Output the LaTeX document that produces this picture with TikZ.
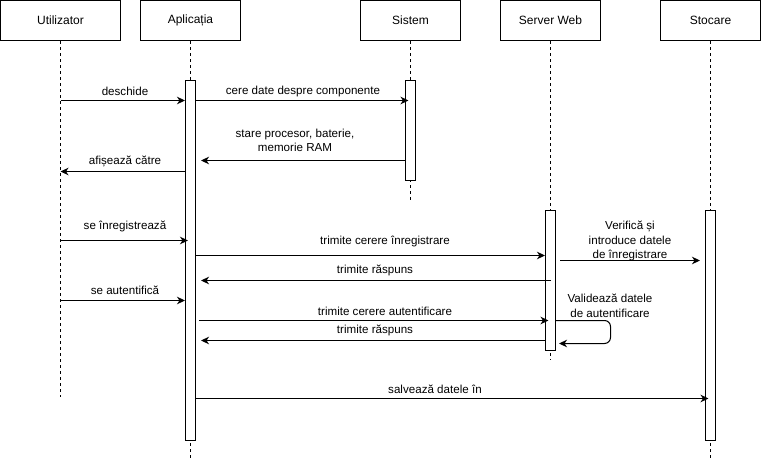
\documentclass[tikz,border=0pt]{standalone}
\usepackage{fontspec}
\setmainfont{Liberation Sans}
\usetikzlibrary{arrows.meta}
\begin{document}
\begin{tikzpicture}[x=1pt,y=-1pt,
  head/.style={draw,line width=1pt,minimum height=40pt,inner sep=0pt,font=\fontsize{12}{14}\selectfont},
  act/.style={draw,fill=white,line width=1pt,minimum width=10pt,inner sep=0pt},
  life/.style={line width=1pt,dash pattern=on 3pt off 3pt},
  msg/.style={line width=1pt,-{Stealth[length=8pt,width=7.5pt,inset=2.5pt]}},
  lbl/.style={font=\fontsize{11.6}{13}\selectfont,align=center,inner sep=0pt}]
\useasboundingbox (0,0) rectangle (761,461);

% participants
\node[head,minimum width=120pt] (hU) at (60.5,20.5) {Utilizator};
\node[head,minimum width=100pt] (hA) at (190.5,20.5) {Aplicația};
\node[head,minimum width=100pt] (hS) at (410.5,20.5) {Sistem};
\node[head,minimum width=100pt] (hW) at (550.5,20.5) {Server Web};
\node[head,minimum width=100pt] (hT) at (710.5,20.5) {Stocare};

% lifelines
\coordinate (eU) at (60.5,397);
\coordinate (eA) at (190.5,460);
\coordinate (eS) at (410.5,200);
\coordinate (eW) at (550.5,360);
\coordinate (eT) at (710.5,460);
\draw[life] (hU.south) -- (eU);
\draw[life] (hA.south) -- (eA);
\draw[life] (hS.south) -- (eS);
\draw[life] (hW.south) -- (eW);
\draw[life] (hT.south) -- (eT);

% activation bars
\node[act,minimum height=360pt] (aA) at (190.5,260.5) {};
\node[act,minimum height=100pt] (aS) at (410.5,130.5) {};
\node[act,minimum height=140pt] (aW) at (550.5,280.5) {};
\node[act,minimum height=230pt] (aT) at (710.5,325.5) {};

% messages
\draw[msg] (hU.south |- 0,100.5) -- (aA.west |- 0,100.5);
\node[lbl] (l1) at (125,91) {deschide};

\draw[msg] (aA.east |- 0,100.5) -- ([xshift=-2pt]aS.center |- 0,100.5);
\node[lbl] (l2) at (303,91) {cere date despre componente};

\draw[msg] (aS.west |- 0,160.5) -- ([xshift=5pt]aA.east |- 0,160.5);
\node[lbl,font=\fontsize{11.6}{14}\selectfont] (l3) at (295,140) {stare procesor, baterie,\\memorie RAM};

\draw[msg] (aA.west |- 0,171.5) -- (hU.south |- 0,171.5);
\node[lbl] (l4) at (125,161) {afișează către};

\draw[msg] (hU.south |- 0,240.5) -- ([xshift=3pt]aA.west |- 0,240.5);
\node[lbl] (l5) at (125,226) {se înregistrează};

\draw[msg] (aA.east |- 0,255.5) -- (aW.west |- 0,255.5);
\node[lbl] (l6) at (385,241) {trimite cerere înregistrare};

\draw[msg] ([xshift=0.5pt]aW.center |- 0,280.5) -- ([xshift=5pt]aA.east |- 0,280.5);
\node[lbl] (l7) at (375,270) {trimite răspuns};

\draw[msg] (hU.south |- 0,300.5) -- (aA.west |- 0,300.5);
\node[lbl] (l8) at (125,290) {se autentifică};

\draw[msg] ([xshift=3pt]aA.east |- 0,320.5) -- ([xshift=-2pt]aW.center |- 0,320.5);
\node[lbl] (l9) at (385,311) {trimite cerere autentificare};

\draw[msg] (aW.west |- 0,340.5) -- ([xshift=5pt]aA.east |- 0,340.5);
\node[lbl] (l10) at (375,330) {trimite răspuns};

\draw[msg] ([xshift=4pt]aW.east |- 0,260.5) -- ([xshift=-5pt]aT.west |- 0,260.5);
\node[lbl,font=\fontsize{11.6}{14.5}\selectfont] (l11) at (630,241) {Verifică și\\introduce datele\\de înregistrare};

\coordinate (sk) at (610.5,320.5);
\draw[msg,rounded corners=6pt] (aW.east |- 0,320.5) -- (sk) -- (610.5,343.5) -- ([xshift=3pt]aW.east |- 0,343.5);
\node[lbl,font=\fontsize{11.6}{15}\selectfont] (l12) at (610,305.5) {Validează datele\\de autentificare};

\draw[msg] (aA.east |- 0,398.5) -- ([xshift=-2pt]aT.center |- 0,398.5);
\node[lbl] (l13) at (435,389) {salvează datele în};
\end{tikzpicture}
\end{document}
